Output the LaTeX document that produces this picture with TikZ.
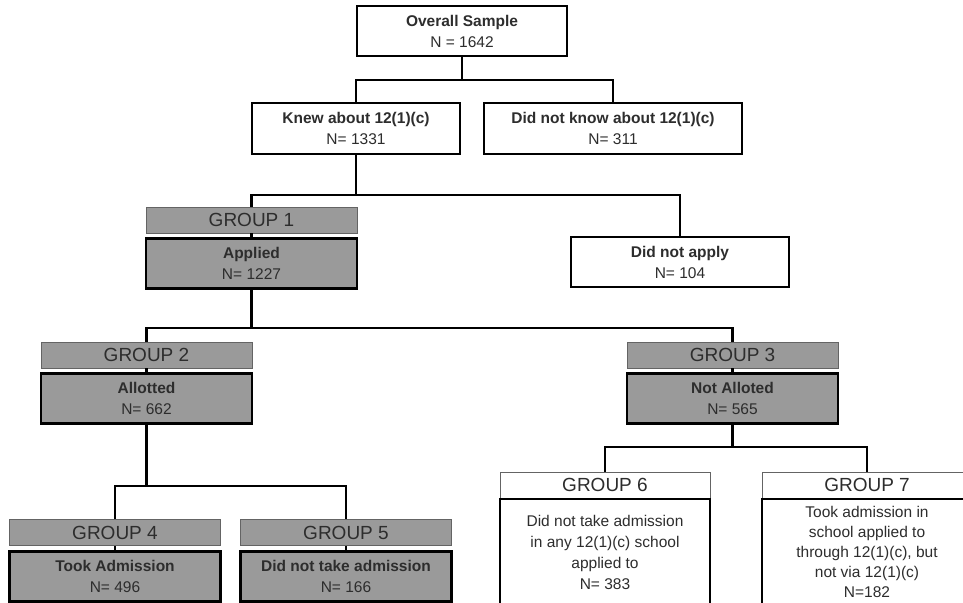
\documentclass[tikz,border=0pt]{standalone}
\usepackage{fontspec}
\setmainfont{Liberation Sans}
\usetikzlibrary{positioning}
\definecolor{boxgrey}{RGB}{154,154,154}
\definecolor{headline}{RGB}{100,100,100}
\definecolor{inkgrey}{RGB}{45,45,45}

\begin{document}
\begin{tikzpicture}
    [%
        x=1pt,y=-1pt,%
        count box/.style={%
            draw,%
            line width=2pt,%
            fill=white,%
            text=inkgrey,%
            align=center,%
            inner sep=2pt,%
            minimum height=50pt,%
            font=\fontsize{15.5}{21}\selectfont%
        },%
        group body/.style={%
            count box,%
            fill=boxgrey,%
            line width=2.8pt%
        },%
        group head/.style={%
            draw=headline,%
            fill=boxgrey,%
            line width=0.8pt,%
            text=inkgrey,%
            inner sep=0pt,%
            minimum width=211pt,%
            minimum height=26pt,%
            font=\fontsize{19}{20}\selectfont%
        },%
        tree line/.style={%
            line width=2.4pt%
        }%
    ]%
%
    \clip (0,0) rectangle (963,602);
    \fill[white] (0,0) rectangle (963,602);
%
    % first two levels
    \node[count box,minimum width=210pt] (overall) at (462,31)
        {\textbf{Overall Sample}\\N = 1642};
    \node[count box,minimum width=208pt,minimum height=51pt] (knew) at (356,128.5)
        {\textbf{Knew about 12(1)(c)}\\N= 1331};
    \node[count box,minimum width=258pt,minimum height=51pt] (dnk) at (613,128.5)
        {\textbf{Did not know about 12(1)(c)}\\N= 311};
    \node[count box,minimum width=218pt] (dna) at (680,262)
        {\textbf{Did not apply}\\N= 104};
%
    % grey groups: header with body below it
    % \g group number, \x/\y header centre, \name body name, \body body text
    \foreach \g/\x/\y/\name/\body in {%
        1/251.5/220/applied/{\textbf{Applied}\\N= 1227},%
        2/146.5/355/allotted/{\textbf{Allotted}\\N= 662},%
        3/732.5/355/notallot/{\textbf{Not Alloted}\\N= 565},%
        4/115/532.5/took/{\textbf{Took Admission}\\N= 496},%
        5/346/532.5/dntake/{\textbf{Did not take admission}\\N= 166}%
    }{
        \node[group head] (g\g) at (\x,\y) {GROUP \g};
        \node[group body,minimum width=211pt,below=4pt of g\g] (\name) {\body};
        \draw[tree line] (g\g.south) -- (\name.north);
    } % \foreach \g
%
    % white groups at the bottom
    \node[group head,fill=white,minimum width=210pt] (g6) at (605,485) {GROUP 6};
    \node[count box,minimum width=210pt,minimum height=106pt,below=0pt of g6] (notake)
        {Did not take admission\\in any 12(1)(c) school\\applied to\\N= 383};
    \node[group head,fill=white,minimum width=210pt] (g7) at (867,485) {GROUP 7};
    \node[count box,minimum width=210pt,minimum height=106pt,below=0pt of g7,
        font=\fontsize{15.5}{20}\selectfont] (viaother)
        {Took admission in\\school applied to\\through 12(1)(c), but\\not via 12(1)(c)\\N=182};
%
    % branches: \parent splits at height \ybranch into \kids
    \foreach \parent/\ybranch/\kids in {%
        overall/80/{knew,dnk},%
        knew/195/{g1,dna},%
        applied/328/{g2,g3},%
        allotted/486/{g4,g5},%
        notallot/447/{g6,g7}%
    }{
        \coordinate (\parent-split) at (\parent.south |- 0,\ybranch);
        \draw[tree line] (\parent.south) -- (\parent-split);
        \foreach \kid in \kids {
            \draw[tree line] (\parent-split) -| (\kid.north);
        } % \foreach \kid
    } % \foreach \parent
\end{tikzpicture}
\end{document}
